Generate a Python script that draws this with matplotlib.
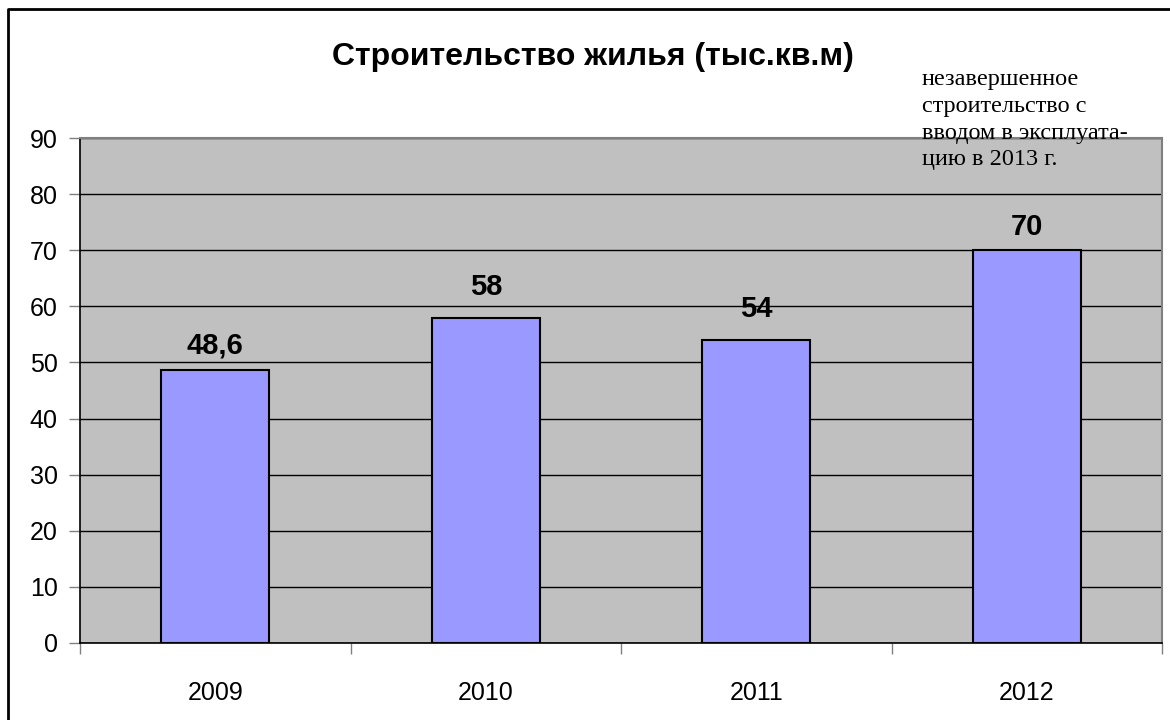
import matplotlib
matplotlib.use("Agg")
import matplotlib.pyplot as plt
from matplotlib.lines import Line2D
import numpy as np

# data
years = ["2009", "2010", "2011", "2012"]
values = [48.6, 58, 54, 70]
labels = ["48,6", "58", "54", "70"]
note = "незавершенное\nстроительство с\nвводом в эксплуата-\nцию в 2013 г."

# label gap above each bar (points), labels were placed by hand in the original
label_gap = [7.5, 12, 12, 7]

plt.rcParams['font.family'] = ['Liberation Sans', 'DejaVu Sans']

fig = plt.figure(figsize=(11.7, 7.2), dpi=100)
ax = fig.add_axes([80/1170, 77/720, 1082/1170, 505/720])

# outer frame of the chart: only left and top edges fall inside the picture
fx, fy = 8/1170, 1 - 9/720
fig.lines.append(Line2D([fx, fx, 1.0], [0.0, fy, fy], transform=fig.transFigure,
                        color='black', linewidth=2))

ax.set_facecolor('#C0C0C0')
x = np.arange(len(years))
ax.bar(x, values, width=0.4, color='#9999FF', edgecolor='black', linewidth=1.5, zorder=3)

for xi, v, lab, g in zip(x, values, labels, label_gap):
    ax.annotate(lab, (xi, v), xytext=(0, g), textcoords='offset points',
                ha='center', va='bottom', fontsize=21, fontweight='bold', zorder=4)

ax.set_xlim(-0.5, len(years) - 0.5)
ax.set_ylim(0, 90)
ax.set_yticks(range(0, 91, 10))
ax.yaxis.grid(True, color='black', linewidth=1)
ax.set_axisbelow(True)

ax.set_xticks(x)
ax.set_xticklabels(years)
ax.set_xticks(np.arange(-0.5, len(years), 1), minor=True)
ax.tick_params(axis='x', which='major', length=0, pad=27, labelsize=18)
ax.tick_params(axis='x', which='minor', length=8, width=1, color='#808080')
ax.tick_params(axis='y', length=8, width=1, pad=8, labelsize=18, color='#808080')

for s in ['top', 'right']:
    ax.spines[s].set_color('#808080')
    ax.spines[s].set_linewidth(1.5)
for s in ['left', 'bottom']:
    ax.spines[s].set_color('black')
    ax.spines[s].set_linewidth(1.2)

fig.text(593/1170, 1 - 57/720, "Строительство жилья (тыс.кв.м)", ha='center', va='center',
         fontsize=23, fontweight='bold')
fig.text(922/1170, 1 - 69/720, note, ha='left', va='top', fontsize=17.5,
         family=['Liberation Serif', 'DejaVu Serif'], linespacing=1.36)

fig.savefig("out.png", dpi=100)
